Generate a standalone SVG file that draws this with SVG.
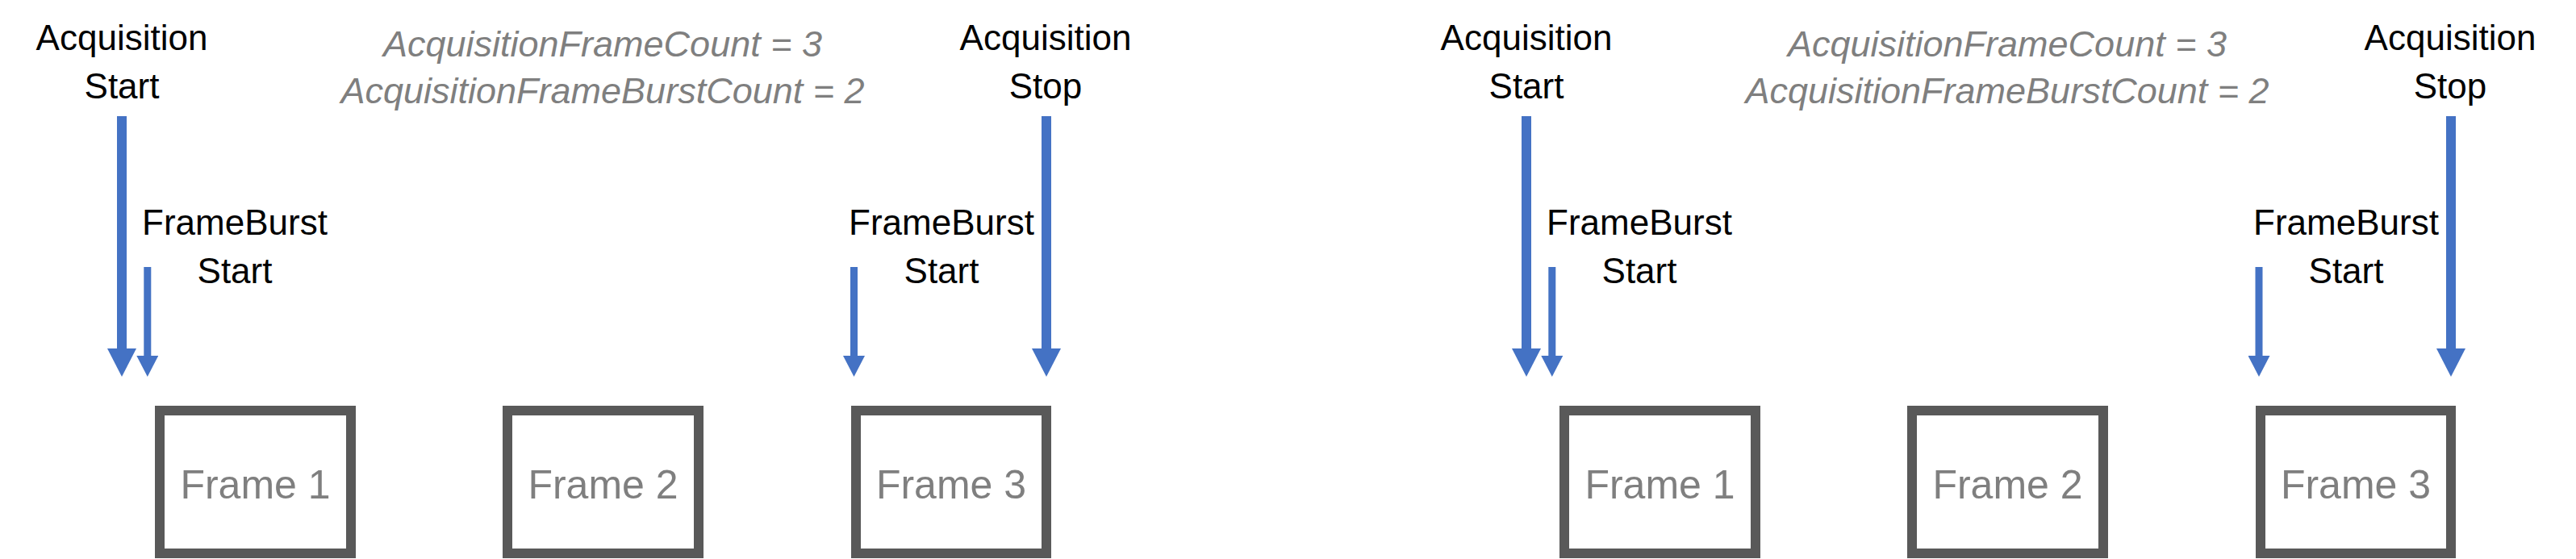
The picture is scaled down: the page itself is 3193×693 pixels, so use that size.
<svg xmlns="http://www.w3.org/2000/svg" width="3193" height="693" viewBox="0 0 3193 693">
<style>
.lbl{font-family:"Liberation Sans",Arial,sans-serif;font-size:44px;fill:#000;text-anchor:middle}
.note{font-family:"Liberation Sans",Arial,sans-serif;font-size:45px;font-style:italic;fill:#7f7f7f;text-anchor:middle}
.frame{fill:#fff;stroke:#595959;stroke-width:12}
.ftxt{font-family:"Liberation Sans",Arial,sans-serif;font-size:50px;fill:#7f7f7f;text-anchor:middle}
.big{stroke:#4472c4;stroke-width:12;fill:none;marker-end:url(#hb)}
.small{stroke:#4472c4;stroke-width:9;fill:none;marker-end:url(#hs)}
</style>
<defs>
<marker id="hb" viewBox="0 0 35 36" markerWidth="35" markerHeight="36" markerUnits="userSpaceOnUse" refX="0" refY="18" orient="auto"><path d="M0,0 L35,18 L0,36 Z" fill="#4472c4"/></marker>
<marker id="hs" viewBox="0 0 26 27" markerWidth="26" markerHeight="27" markerUnits="userSpaceOnUse" refX="0" refY="13.5" orient="auto"><path d="M0,0 L26,13.5 L0,27 Z" fill="#4472c4"/></marker>
</defs>
<rect width="3193" height="693" fill="#fff"/>

<g id="left">
<g id="acqStartL"><text class="lbl" x="151" y="62">Acquisition</text><text class="lbl" x="151" y="122">Start</text></g>
<g id="fbStartL1"><text class="lbl" x="291" y="291">FrameBurst</text><text class="lbl" x="291" y="351">Start</text></g>
<g id="fbStartL2"><text class="lbl" x="1167" y="291">FrameBurst</text><text class="lbl" x="1167" y="351">Start</text></g>
<g id="acqStopL"><text class="lbl" x="1296" y="62">Acquisition</text><text class="lbl" x="1296" y="122">Stop</text></g>
<g id="noteL"><text class="note" x="747" y="70">AcquisitionFrameCount = 3</text><text class="note" x="747" y="128">AcquisitionFrameBurstCount = 2</text></g>
<g id="frame1L"><rect class="frame" x="198" y="509" width="237" height="177"/><text class="ftxt" x="316.5" y="618">Frame 1</text></g>
<g id="frame2L"><rect class="frame" x="629" y="509" width="237" height="177"/><text class="ftxt" x="747.5" y="618">Frame 2</text></g>
<g id="frame3L"><rect class="frame" x="1061" y="509" width="236" height="177"/><text class="ftxt" x="1179" y="618">Frame 3</text></g>
</g>

<g id="right">
<g id="acqStartR"><text class="lbl" x="1892" y="62">Acquisition</text><text class="lbl" x="1892" y="122">Start</text></g>
<g id="fbStartR1"><text class="lbl" x="2032" y="291">FrameBurst</text><text class="lbl" x="2032" y="351">Start</text></g>
<g id="fbStartR2"><text class="lbl" x="2908" y="291">FrameBurst</text><text class="lbl" x="2908" y="351">Start</text></g>
<g id="acqStopR"><text class="lbl" x="3037" y="62">Acquisition</text><text class="lbl" x="3037" y="122">Stop</text></g>
<g id="noteR"><text class="note" x="2488" y="70">AcquisitionFrameCount = 3</text><text class="note" x="2488" y="128">AcquisitionFrameBurstCount = 2</text></g>
<g id="frame1R"><rect class="frame" x="1939" y="509" width="237" height="177"/><text class="ftxt" x="2057.5" y="618">Frame 1</text></g>
<g id="frame2R"><rect class="frame" x="2370" y="509" width="237" height="177"/><text class="ftxt" x="2488.5" y="618">Frame 2</text></g>
<g id="frame3R"><rect class="frame" x="2802" y="509" width="236" height="177"/><text class="ftxt" x="2920" y="618">Frame 3</text></g>
</g>

<g id="connectors">
<line class="big" x1="151" y1="144" x2="151" y2="432"/>
<line class="small" x1="182.8" y1="331" x2="182.8" y2="441"/>
<line class="small" x1="1058.5" y1="331" x2="1058.5" y2="441"/>
<line class="big" x1="1297" y1="144" x2="1297" y2="432"/>
<line class="big" x1="1892" y1="144" x2="1892" y2="432"/>
<line class="small" x1="1923.8" y1="331" x2="1923.8" y2="441"/>
<line class="small" x1="2800" y1="331" x2="2800" y2="441"/>
<line class="big" x1="3038" y1="144" x2="3038" y2="432"/>
</g>
</svg>
